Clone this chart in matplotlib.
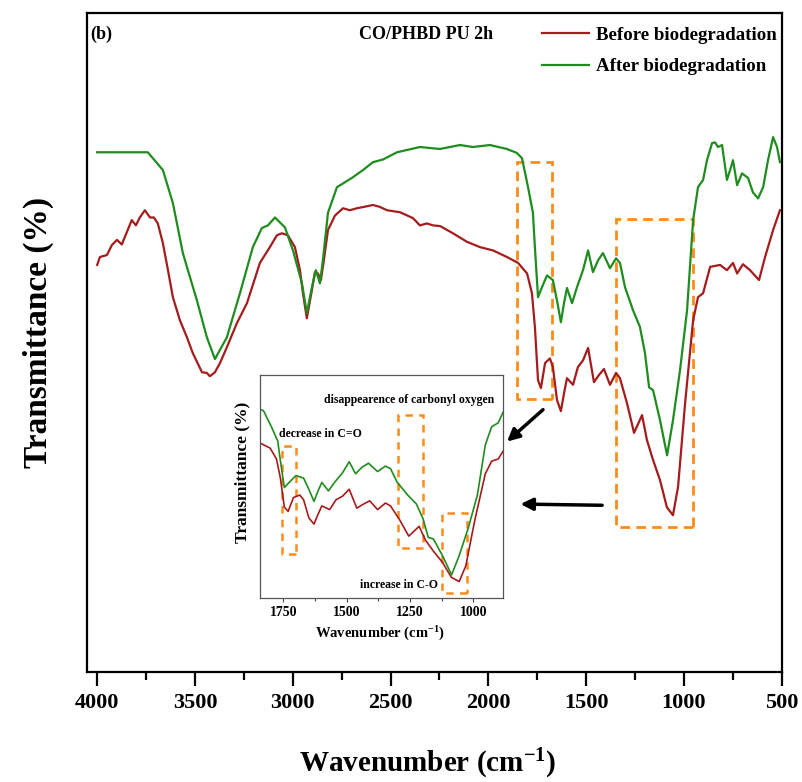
import matplotlib.pyplot as plt
from matplotlib.patches import Rectangle
from matplotlib.ticker import MultipleLocator

plt.rcParams['font.family'] = ['Liberation Serif', 'DejaVu Serif']
plt.rcParams['font.weight'] = 'bold'
plt.rcParams['mathtext.fontset'] = 'custom'
plt.rcParams['mathtext.rm'] = 'Liberation Serif:bold'
plt.rcParams['mathtext.it'] = 'Liberation Serif:italic:bold'
plt.rcParams['mathtext.bf'] = 'Liberation Serif:bold'

# FTIR spectra, wavenumber (cm-1) vs transmittance (arb. %)
wn_before = [4000, 3986, 3950, 3925, 3899, 3874, 3848, 3823, 3802, 3782,
             3756, 3730, 3710, 3690, 3664, 3638, 3613, 3577, 3541, 3511,
             3464, 3439, 3424, 3398, 3372, 3337, 3285, 3234, 3168, 3117,
             3081, 3056, 3025, 2989, 2963, 2948, 2928, 2902, 2887, 2871,
             2856, 2841, 2820, 2784, 2743, 2708, 2672, 2621, 2590, 2554,
             2518, 2452, 2385, 2350, 2314, 2283, 2247, 2181, 2109, 2043,
             1976, 1905, 1848, 1802, 1777, 1762, 1746, 1731, 1710, 1685,
             1670, 1649, 1629, 1613, 1598, 1567, 1542, 1516, 1490, 1460,
             1434, 1409, 1378, 1347, 1327, 1291, 1255, 1214, 1189, 1158,
             1122, 1087, 1056, 1030, 994, 953, 928, 902, 866, 815,
             780, 749, 728, 698, 662, 616, 585, 544, 509]
t_before = [61.8, 63.0, 63.3, 64.8, 65.6, 64.9, 66.8, 68.6, 67.8, 69.0,
            70.1, 69.0, 69.0, 68.1, 65.1, 61.0, 56.9, 53.4, 50.8, 48.4,
            45.5, 45.4, 44.9, 45.5, 46.9, 49.3, 53.0, 56.0, 62.1, 64.5,
            66.3, 66.6, 66.3, 64.5, 61.0, 57.5, 53.7, 58.0, 60.7, 60.5,
            59.5, 62.5, 67.1, 69.3, 70.4, 70.1, 70.4, 70.7, 70.9, 70.6,
            70.1, 69.8, 68.9, 67.8, 68.1, 67.8, 67.7, 66.6, 65.3, 64.5,
            64.0, 63.0, 62.1, 60.5, 57.5, 52.4, 44.3, 43.1, 46.9, 47.6,
            46.3, 41.3, 39.6, 42.3, 44.6, 43.6, 46.3, 47.3, 49.2, 44.0,
            45.1, 46.0, 43.6, 45.4, 44.6, 40.8, 36.3, 39.0, 35.2, 32.2,
            29.1, 25.0, 23.8, 28.1, 40.8, 53.4, 56.9, 57.5, 61.5, 61.8,
            61.0, 62.1, 60.5, 61.9, 61.0, 59.5, 63.0, 67.1, 70.1]

wn_after = [4000, 3741, 3664, 3613, 3562, 3490, 3439, 3398, 3337, 3270,
            3204, 3158, 3127, 3091, 3040, 2999, 2953, 2928, 2902, 2882,
            2861, 2846, 2820, 2774, 2698, 2641, 2590, 2539, 2467, 2350,
            2248, 2145, 2079, 1992, 1905, 1854, 1828, 1797, 1772, 1762,
            1746, 1726, 1700, 1670, 1649, 1629, 1613, 1598, 1572, 1547,
            1516, 1490, 1465, 1439, 1414, 1378, 1347, 1327, 1301, 1260,
            1225, 1199, 1178, 1158, 1122, 1086, 1056, 1020, 984, 953,
            928, 902, 882, 856, 841, 826, 805, 780, 764, 749,
            728, 703, 672, 647, 621, 595, 570, 544, 524, 509]
t_after = [78.9, 78.9, 76.2, 71.2, 63.6, 56.4, 50.8, 47.5, 50.8, 57.5,
           64.5, 67.4, 67.8, 69.0, 67.5, 64.0, 59.0, 54.5, 58.4, 61.0,
           59.0, 62.5, 69.7, 73.6, 75.0, 76.2, 77.4, 77.8, 78.9, 79.7,
           79.4, 80.0, 79.7, 80.0, 79.4, 78.8, 78.0, 73.6, 69.7, 64.5,
           56.9, 58.4, 60.2, 59.5, 56.4, 53.1, 56.0, 58.3, 56.0, 58.4,
           61.0, 64.0, 60.7, 62.5, 63.6, 61.3, 62.8, 62.1, 58.4, 54.9,
           52.4, 48.4, 43.2, 42.8, 38.2, 32.9, 38.2, 45.8, 54.9, 68.6,
           73.6, 74.7, 77.7, 80.3, 80.4, 79.7, 80.0, 74.7, 76.2, 77.7,
           73.9, 75.7, 75.0, 72.8, 71.9, 73.6, 77.7, 81.2, 79.7, 77.4]

xticks_main = [4000, 3500, 3000, 2500, 2000, 1500, 1000, 500]
xticks_inset = [1750, 1500, 1250, 1000]
inset_shift = -7.25   # vertical offset of the "after" trace in the zoom

RED = '#a51c1c'
GREEN = '#1f8c1f'
ORANGE = '#ff8c1a'

fig = plt.figure(figsize=(8.02, 7.82), dpi=100)
ax = fig.add_axes([0.108, 0.1407, 0.8667, 0.8423])

ax.plot(wn_before, t_before, color=RED, lw=1.6, label='Before biodegradation')
ax.plot(wn_after, t_after, color=GREEN, lw=1.6, label='After biodegradation')

ax.set_xlim(4054, 500)
ax.set_ylim(0, 100)
ax.set_xticks(xticks_main)
ax.xaxis.set_minor_locator(MultipleLocator(250))
ax.set_yticks([])
ax.tick_params(axis='x', which='major', direction='out', length=10, width=1.6,
               labelsize=16, pad=5)
ax.tick_params(axis='x', which='minor', direction='out', length=6, width=1.6)
for s in ax.spines.values():
    s.set_linewidth(1.6)

ax.set_xlabel(r'Wavenumber (cm$^{-1}$)', fontsize=21, fontweight='bold')
ax.xaxis.set_label_coords(0.49, -0.113)
ax.set_ylabel('Transmittance (%)', fontsize=24, fontweight='bold')
ax.yaxis.set_label_coords(-0.047, 0.515)

ax.legend(loc='upper right', bbox_to_anchor=(1.012, 1.0), frameon=False,
          fontsize=13.6, handlelength=2.5, handletextpad=0.35,
          labelspacing=0.75, borderaxespad=0.3)
ax.text(0.005, 0.968, '(b)', transform=ax.transAxes, fontsize=13,
        ha='left', va='center')
ax.text(0.488, 0.968, 'CO/PHBD PU 2h', transform=ax.transAxes, fontsize=13,
        ha='center', va='center')

# highlighted regions
for x0, x1, y0, y1 in [(1854, 1675, 41.4, 77.4), (1347, 953, 22.0, 68.7)]:
    ax.add_patch(Rectangle((x1, y0), x0 - x1, y1 - y0, fill=False,
                           ec=ORANGE, lw=2.0, ls=(0, (3.5, 2.2))))

arrow = dict(arrowstyle='-|>', color='k', lw=2.5, mutation_scale=18)
ax.annotate('', xy=(1915, 34.7), xytext=(1710, 40.1), arrowprops=arrow)
ax.annotate('', xy=(1850, 25.5), xytext=(1404, 25.3), arrowprops=arrow)

# zoomed inset of the fingerprint region
axin = fig.add_axes([0.3242, 0.2353, 0.303, 0.2852])
axin.plot(wn_before, t_before, color=RED, lw=1.2)
axin.plot(wn_after, [t + inset_shift for t in t_after], color=GREEN, lw=1.2)
axin.set_xlim(1842, 883)
axin.set_ylim(19.3, 80.6)
axin.set_xticks(xticks_inset)
axin.xaxis.set_minor_locator(MultipleLocator(125))
axin.set_yticks([])
axin.tick_params(axis='x', which='major', direction='out', length=3, width=0.8,
                 labelsize=10, pad=3, color='#444444')
axin.tick_params(axis='x', which='minor', direction='out', length=2, width=0.8,
                 color='#444444')
for s in axin.spines.values():
    s.set_linewidth(0.9)
    s.set_color('#555555')
axin.set_xlabel(r'Wavenumber (cm$^{-1}$)', fontsize=10.5, fontweight='bold')
axin.xaxis.set_label_coords(0.494, -0.12)
axin.set_ylabel('Transmittance (%)', fontsize=12.5, fontweight='bold')
axin.yaxis.set_label_coords(-0.04, 0.565)

for x0, x1, y0, y1 in [(1756, 1700, 31.4, 61.1), (1296, 1200, 33.0, 69.6),
                       (1125, 1024, 20.8, 42.6)]:
    axin.add_patch(Rectangle((x1, y0), x0 - x1, y1 - y0, fill=False,
                             ec=ORANGE, lw=1.8, ls=(0, (3, 2.5))))

axin.text(0.613, 0.888, 'disappearence of carbonyl oxygen', transform=axin.transAxes,
          fontsize=8.5, ha='center', va='center')
axin.text(0.249, 0.735, 'decrease in C=O', transform=axin.transAxes,
          fontsize=8.5, ha='center', va='center')
axin.text(0.570, 0.058, 'increase in C-O', transform=axin.transAxes,
          fontsize=8.5, ha='center', va='center')

fig.savefig('out.png', dpi=100, facecolor='white')
